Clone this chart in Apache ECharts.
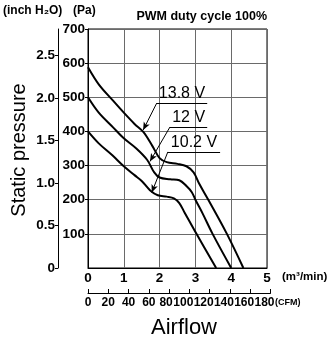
<!DOCTYPE html>
<html><head><meta charset="utf-8">
<script src="https://cdn.jsdelivr.net/npm/echarts@6/dist/echarts.min.js"></script>
<style>html,body{margin:0;padding:0;background:#fff}#c{width:332px;height:337px}</style>
</head><body><div id="c"></div>
<script>
// ---- data ----
const flow138 = [0, 0.3, 0.7, 1.0, 1.3, 1.55, 1.8, 2.0, 2.2, 2.5, 2.75, 2.95, 3.1, 3.36, 3.88, 4.34];
const pres138 = [588, 538, 490, 455, 422, 398, 357, 322, 310, 305, 298, 280, 248, 200, 100, 0];
const flow120 = [0, 0.3, 0.7, 1.0, 1.35, 1.65, 1.85, 2.0, 2.3, 2.55, 2.75, 2.9, 3.0, 3.2, 3.48, 4.0];
const pres120 = [500, 455, 412, 380, 350, 317, 280, 265, 260, 257, 240, 222, 200, 160, 100, 0];
const flow102 = [0, 0.3, 0.68, 1.0, 1.3, 1.5, 1.73, 1.95, 2.2, 2.4, 2.55, 2.7, 3.03, 3.58];
const pres102 = [400, 365, 330, 298, 272, 255, 228, 213, 209, 204, 190, 162, 100, 0];

const seriesNames = ['13.8 V', '12 V', '10.2 V'];
const labelTips   = [[1.54, 404], [1.73, 312], [1.78, 221]];
const labelElbows = [[1.92, 483], [2.29, 413], [2.23, 340]];
const labelEnds   = [[3.33, 483], [3.33, 413], [3.69, 340]];

const inchTicks = [0, 0.5, 1.0, 1.5, 2.0, 2.5];
const cfmTicks = [0, 20, 40, 60, 80, 100, 120, 140, 160, 180];
const PA_PER_INCH = 249.089;
const CFM_PER_M3 = 35.3147;

// ---- chart ----
const tickFont = '"Liberation Sans",Arial,sans-serif';
const sans = '"Liberation Sans",Arial,sans-serif';
const zip = (a, b) => a.map((v, i) => [v, b[i]]);

const gl = 88, gt = 29, gw = 179, gh = 239;
const chart = echarts.init(document.getElementById('c'), null, {renderer: 'canvas'});

const lineStyle = {color: '#000', width: 2};
const cfmStyle = {color: '#000', fontFamily: tickFont, fontWeight: 'bold', fontSize: 12};
chart.setOption({
  animation: false,
  grid: [
    {left: gl, top: gt, width: gw, height: gh, show: true, borderColor: '#000', borderWidth: 1, backgroundColor: 'transparent'},
    {left: gl, top: gt, width: gw * (180 / CFM_PER_M3) / 5, height: gh + 25, show: false}
  ],
  xAxis: [
    {type: 'value', gridIndex: 0, min: 0, max: 5, interval: 1,
     axisLine: {show: true, onZero: false, lineStyle: {color: '#000', width: 1}},
     axisTick: {show: false},
     axisLabel: {margin: 3, color: '#000', fontFamily: tickFont, fontWeight: 'bold', fontSize: 13.5},
     splitLine: {show: true, lineStyle: {color: '#6a6a6a', width: 1}}},
    {type: 'value', gridIndex: 1, min: 0, max: 180, interval: 20, position: 'bottom',
     axisLine: {show: true, onZero: false, lineStyle: {color: '#000', width: 1}},
     axisTick: {show: true, inside: true, length: 4, customValues: cfmTicks, lineStyle: {color: '#000', width: 1}},
     axisLabel: {margin: 4, customValues: cfmTicks, showMaxLabel: true, showMinLabel: true, hideOverlap: false,
       formatter: v => v >= 100 ? '{w|' + v + '}' : (v === 80 ? '{m|' + v + '}' : '{n|' + v + '}'),
       rich: {
         n: Object.assign({}, cfmStyle),
         m: Object.assign({padding: [0, 6, 0, 0]}, cfmStyle),
         w: Object.assign({padding: [0, 12, 0, 0]}, cfmStyle)
       },
       color: '#000', fontFamily: tickFont, fontWeight: 'bold', fontSize: 12},
     splitLine: {show: false}}
  ],
  yAxis: [
    {type: 'value', gridIndex: 0, min: 0, max: 700, interval: 100,
     axisLine: {show: true, onZero: false, lineStyle: {color: '#000', width: 1}},
     axisTick: {show: true, length: 3, lineStyle: {color: '#000'}},
     axisLabel: {margin: 3, showMinLabel: false, color: '#000', fontFamily: tickFont, fontWeight: 'bold', fontSize: 13.5},
     splitLine: {show: true, lineStyle: {color: '#6a6a6a', width: 1}}},
    {type: 'value', gridIndex: 0, min: 0, max: 700 / PA_PER_INCH, position: 'left', offset: 30,
     axisLine: {show: true, onZero: false, lineStyle: {color: '#000', width: 1}},
     axisTick: {show: true, length: 3, customValues: inchTicks, lineStyle: {color: '#000'}},
     axisLabel: {margin: 3, customValues: inchTicks, color: '#000', fontFamily: tickFont, fontWeight: 'bold', fontSize: 13.5,
       formatter: v => v === 0 ? '0' : v.toFixed(1)},
     splitLine: {show: false}},
    {type: 'value', gridIndex: 1, min: 0, max: 700, show: false}
  ],
  series: [
    {name: seriesNames[0], type: 'line', smooth: 0.35, showSymbol: false, data: zip(flow138, pres138), lineStyle},
    {name: seriesNames[1], type: 'line', smooth: 0.35, showSymbol: false, data: zip(flow120, pres120), lineStyle},
    {name: seriesNames[2], type: 'line', smooth: 0.35, showSymbol: false, data: zip(flow102, pres102), lineStyle},
    {type: 'line', xAxisIndex: 1, yAxisIndex: 2, data: [], silent: true},
    {type: 'line', data: [], silent: true,
     markLine: {silent: true, animation: false, symbol: 'none', precision: 3,
       lineStyle: {color: '#000', width: 1, type: 'solid'},
       label: {show: false},
       data: seriesNames.flatMap((n, i) => [
         [{coord: labelElbows[i], symbol: 'none'}, {coord: labelTips[i], symbol: 'arrow', symbolSize: [5, 8]}],
         [{coord: labelElbows[i], symbol: 'none',
           label: {show: true, position: 'insideMiddleTop', formatter: n, distance: 1,
                   color: '#000', fontFamily: sans, fontSize: 16, fontWeight: 500}},
          {coord: labelEnds[i], symbol: 'none'}]
       ])}}
  ],
  graphic: [
    {type: 'text', left: 3, top: 5, style: {text: '(inch H₂O)', fontFamily: sans, fontWeight: 'bold', fontSize: 12, fill: '#000'}},
    {type: 'text', left: 73, top: 5, style: {text: '(Pa)', fontFamily: sans, fontWeight: 'bold', fontSize: 12, fill: '#000'}},
    {type: 'text', right: 332 - (gl + gw), top: 10, style: {text: 'PWM duty cycle 100%', fontFamily: sans, fontWeight: 'bold', fontSize: 12.5, fill: '#000', textAlign: 'right'}},
    {type: 'text', left: 282, top: 271, style: {text: '(m³/min)', fontFamily: sans, fontSize: 11.5, fontWeight: 'bold', fill: '#000'}},
    {type: 'text', left: 275, top: 298, style: {text: '(CFM)', fontFamily: sans, fontSize: 9, fontWeight: 'bold', fill: '#000'}},
    {type: 'text', x: 19, y: 150, rotation: Math.PI / 2, style: {text: 'Static pressure', fontFamily: sans, fontSize: 20, fill: '#000', align: 'center', verticalAlign: 'middle'}},
    {type: 'text', x: 184, y: 328, style: {text: 'Airflow', fontFamily: sans, fontSize: 22, fill: '#000', align: 'center', verticalAlign: 'middle'}}
  ]
});
</script></body></html>
